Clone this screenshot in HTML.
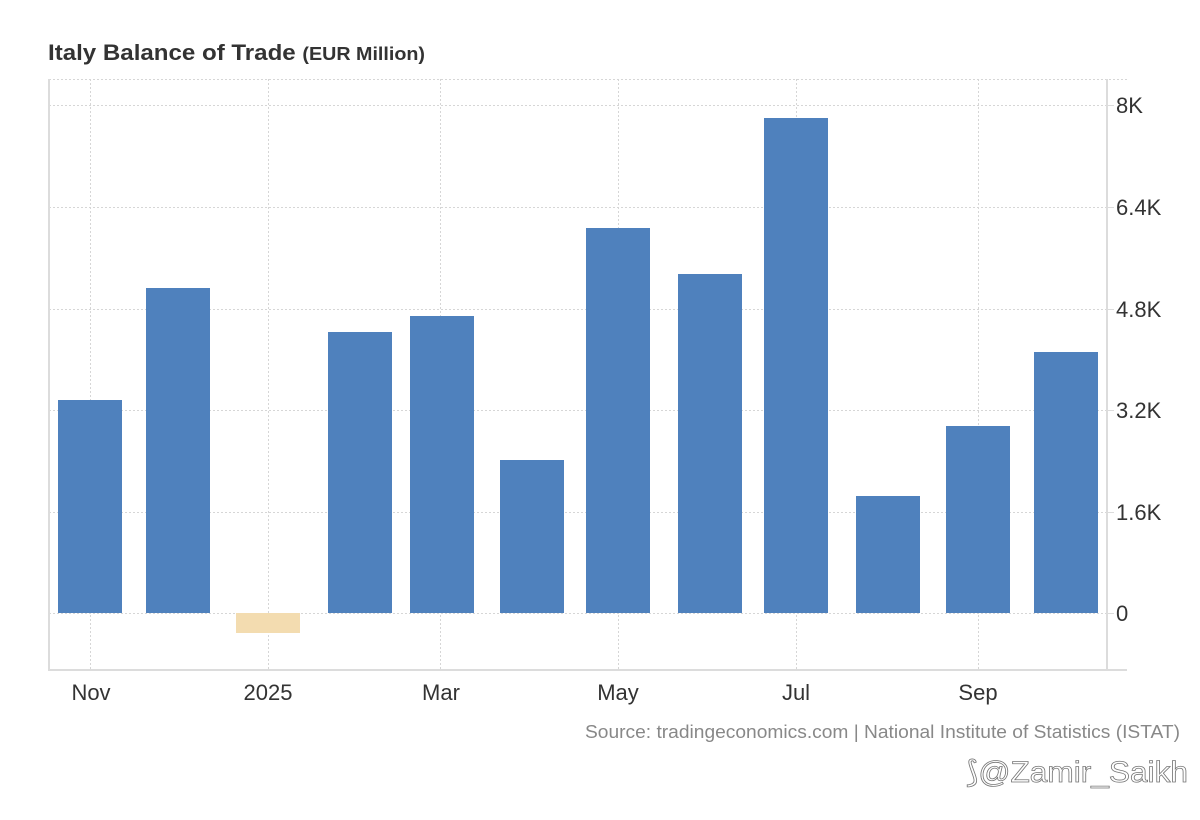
<!DOCTYPE html>
<html><head><meta charset="utf-8"><style>
body{margin:0;background:#fff;}
svg{display:block;font-family:"Liberation Sans",Arial,sans-serif;}
</style></head><body>
<svg width="1200" height="820" viewBox="0 0 1200 820" xmlns="http://www.w3.org/2000/svg">
<rect width="1200" height="820" fill="#fff"/>
<text x="48" y="60" font-size="22" font-weight="bold" fill="#333" textLength="377" lengthAdjust="spacingAndGlyphs">Italy Balance of Trade <tspan font-size="18">(EUR Million)</tspan></text>
<g stroke="#d6d6d6" stroke-width="1" stroke-dasharray="2,2">
<line x1="49" y1="79.5" x2="1127" y2="79.5"/>
<line x1="49" y1="105.5" x2="1107" y2="105.5"/>
<line x1="49" y1="207.5" x2="1107" y2="207.5"/>
<line x1="49" y1="309.5" x2="1107" y2="309.5"/>
<line x1="49" y1="410.5" x2="1107" y2="410.5"/>
<line x1="49" y1="512.5" x2="1107" y2="512.5"/>
<line x1="49" y1="613.5" x2="1107" y2="613.5"/>
<line x1="90.5" y1="79" x2="90.5" y2="670"/>
<line x1="268.5" y1="79" x2="268.5" y2="670"/>
<line x1="440.5" y1="79" x2="440.5" y2="670"/>
<line x1="618.5" y1="79" x2="618.5" y2="670"/>
<line x1="796.5" y1="79" x2="796.5" y2="670"/>
<line x1="978.5" y1="79" x2="978.5" y2="670"/>
</g>
<g stroke="#dcdcdc" stroke-width="2">
<line x1="49" y1="79" x2="49" y2="671"/>
<line x1="1107" y1="79" x2="1107" y2="671"/>
<line x1="48" y1="670" x2="1127" y2="670"/>
</g>
<g stroke="#dcdcdc" stroke-width="1">
<line x1="1107" y1="105.5" x2="1114" y2="105.5"/>
<line x1="1107" y1="207.5" x2="1114" y2="207.5"/>
<line x1="1107" y1="309.5" x2="1114" y2="309.5"/>
<line x1="1107" y1="410.5" x2="1114" y2="410.5"/>
<line x1="1107" y1="512.5" x2="1114" y2="512.5"/>
<line x1="1107" y1="613.5" x2="1114" y2="613.5"/>
</g>
<g fill="#4f81bd">
<rect x="58" y="400" width="64" height="213"/>
<rect x="146" y="288" width="64" height="325"/>
<rect x="328" y="332" width="64" height="281"/>
<rect x="410" y="316" width="64" height="297"/>
<rect x="500" y="460" width="64" height="153"/>
<rect x="586" y="228" width="64" height="385"/>
<rect x="678" y="274" width="64" height="339"/>
<rect x="764" y="118" width="64" height="495"/>
<rect x="856" y="496" width="64" height="117"/>
<rect x="946" y="426" width="64" height="187"/>
<rect x="1034" y="352" width="64" height="261"/>
</g>
<rect x="236" y="613" width="64" height="20" fill="#f3dcb0"/>
<g font-size="22" fill="#333">
<text x="1116" y="113">8K</text>
<text x="1116" y="215">6.4K</text>
<text x="1116" y="317">4.8K</text>
<text x="1116" y="418">3.2K</text>
<text x="1116" y="520">1.6K</text>
<text x="1116" y="621">0</text>
</g>
<g font-size="22" fill="#333" text-anchor="middle">
<text x="91" y="700">Nov</text>
<text x="268" y="700">2025</text>
<text x="441" y="700">Mar</text>
<text x="618" y="700">May</text>
<text x="796" y="700">Jul</text>
<text x="978" y="700">Sep</text>
</g>
<text x="585" y="738" font-size="18" fill="#888" textLength="595" lengthAdjust="spacingAndGlyphs">Source: tradingeconomics.com | National Institute of Statistics (ISTAT)</text>
<text x="966" y="782" font-size="30" fill="#fff" stroke="#777" stroke-width="0.8" textLength="222" lengthAdjust="spacingAndGlyphs">⟆@Zamir_Saikh</text>
</svg>
</body></html>
